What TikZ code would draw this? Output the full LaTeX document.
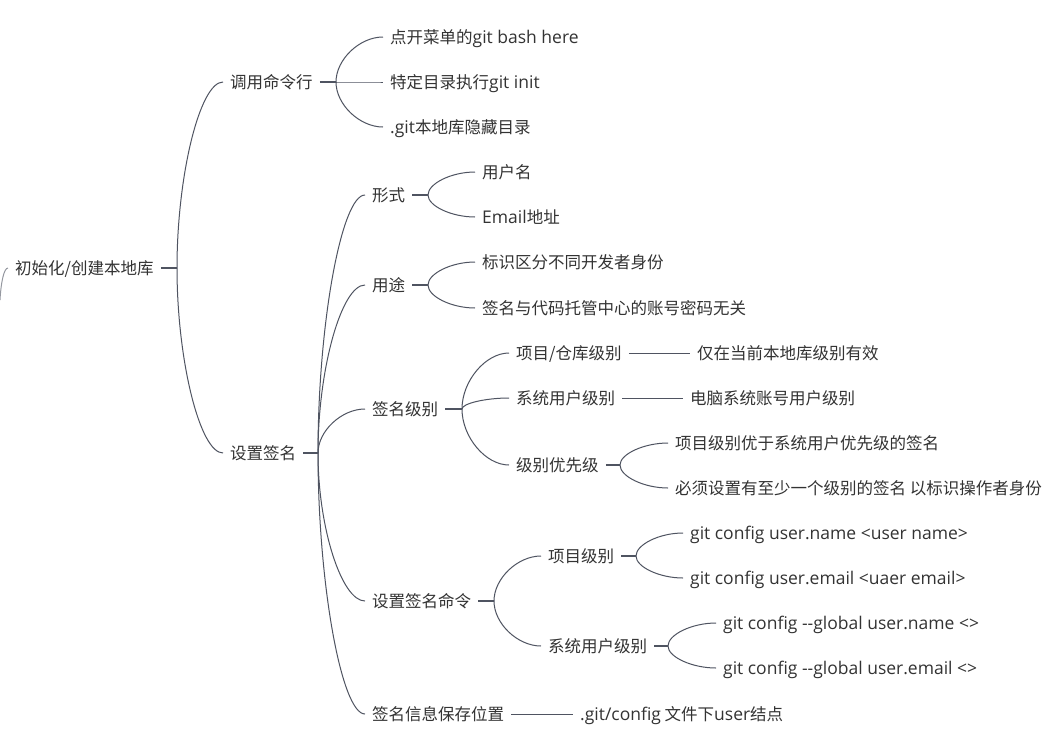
\documentclass[tikz,border=0pt]{standalone}
\usepackage{fontspec}
\setmainfont{Noto Sans CJK SC}
\newfontfamily\latf[Scale=1.06]{Open Sans}
\newcommand\lt[1]{{\latf #1}}
\usetikzlibrary{calc}
\definecolor{txt}{HTML}{333333}
\definecolor{lnc}{HTML}{4F5461}
\newcommand\curv[2]{\draw[ln] let \p1=(#1), \p2=(#2.west) in (\p1) .. controls (\x1,{0.5*(\y1+\y2)}) and ({0.5*(\x1+\x2)},\y2) .. (\p2);}
\begin{document}
\begin{tikzpicture}[x=1pt,y=-1pt,
  tn/.style={anchor=west, inner xsep=7pt, inner ysep=0pt, text height=14pt, text depth=2pt, font=\fontsize{16.5}{19}\selectfont, text=txt},
  ln/.style={draw=lnc, line width=1pt},
  stubline/.style={draw=lnc, line width=1.8pt}]
\fill[white] (0,0) rectangle (1052,737);
\useasboundingbox (0,0) rectangle (1052,737);
% nodes
\node[tn] (root) at (8,268) {初始化/创建本地库};
\node[tn] (a1) at (223,82) {调用命令行};
\node[tn] (a2) at (223,453) {设置签名};
\node[tn] (b1) at (383,37) {点开菜单的\lt{git bash here}};
\node[tn] (b2) at (383,82) {特定目录执行\lt{git init}};
\node[tn] (b3) at (383,127) {\lt{.git}本地库隐藏目录};
\node[tn] (c1) at (365,195) {形式};
\node[tn] (c2) at (365,285) {用途};
\node[tn] (c3) at (365,409) {签名级别};
\node[tn] (c4) at (365,601) {设置签名命令};
\node[tn] (c5) at (365,714) {签名信息保存位置};
\node[tn] (d1) at (475,172) {用户名};
\node[tn] (d2) at (475,217) {\lt{Email}地址};
\node[tn] (d3) at (475,262) {标识区分不同开发者身份};
\node[tn] (d4) at (475,308) {签名与代码托管中心的账号密码无关};
\node[tn] (d5) at (509,353) {项目/仓库级别};
\node[tn] (d6) at (509,398) {系统用户级别};
\node[tn] (d7) at (509,465) {级别优先级};
\node[tn] (d8) at (541,556) {项目级别};
\node[tn] (d9) at (541,646) {系统用户级别};
\node[tn] (e1) at (690,353) {仅在当前本地库级别有效};
\node[tn] (e2) at (683,398) {电脑系统账号用户级别};
\node[tn] (e3) at (668,443) {项目级别优于系统用户优先级的签名};
\node[tn] (e4) at (668,488) {必须设置有至少一个级别的签名 以标识操作者身份};
\node[tn] (e5) at (683,533) {\lt{git config user.name <user name>}};
\node[tn] (e6) at (683,578) {\lt{git config user.email <uaer email>}};
\node[tn] (e7) at (716,623) {\lt{git config -{}-global user.name <>}};
\node[tn] (e8) at (716,668) {\lt{git config -{}-global user.email <>}};
\node[tn] (e9) at (573,714) {\lt{.git/config} 文件下\lt{user}结点};
% junctions
\coordinate (jroot) at (177,268);
\coordinate (ja1) at (336,82);
\coordinate (ja2) at (318,453);
\coordinate (jc1) at (428,195);
\coordinate (jc2) at (428,285);
\coordinate (jc3) at (462,409);
\coordinate (jc4) at (494,601);
\coordinate (jd7) at (620,465);
\coordinate (jd8) at (636,556);
\coordinate (jd9) at (668,646);
\coordinate (lft) at (0,300);
% stubs
\draw[stubline] (root.east) -- (jroot);
\draw[stubline] (a1.east) -- (ja1);
\draw[stubline] (a2.east) -- (ja2);
\draw[stubline] (c1.east) -- (jc1);
\draw[stubline] (c2.east) -- (jc2);
\draw[stubline] (c3.east) -- (jc3);
\draw[stubline] (c4.east) -- (jc4);
\draw[stubline] (d7.east) -- (jd7);
\draw[stubline] (d8.east) -- (jd8);
\draw[stubline] (d9.east) -- (jd9);
% curves
\draw[ln, draw=lnc!60] (lft) .. controls (1,282) and (4,268) .. (root.west);
\curv{jroot}{a1}
\curv{jroot}{a2}
\curv{ja1}{b1}
\curv{ja1}{b2}
\curv{ja1}{b3}
\curv{ja2}{c1}
\curv{ja2}{c2}
\curv{ja2}{c3}
\curv{ja2}{c4}
\curv{ja2}{c5}
\curv{jc1}{d1}
\curv{jc1}{d2}
\curv{jc2}{d3}
\curv{jc2}{d4}
\curv{jc3}{d5}
\curv{jc3}{d6}
\curv{jc3}{d7}
\curv{jd7}{e3}
\curv{jd7}{e4}
\curv{jc4}{d8}
\curv{jc4}{d9}
\curv{jd8}{e5}
\curv{jd8}{e6}
\curv{jd9}{e7}
\curv{jd9}{e8}
% straight links
\draw[ln] (d5.east) -- (e1.west);
\draw[ln] (d6.east) -- (e2.west);
\draw[ln] (c5.east) -- (e9.west);
\end{tikzpicture}
\end{document}
